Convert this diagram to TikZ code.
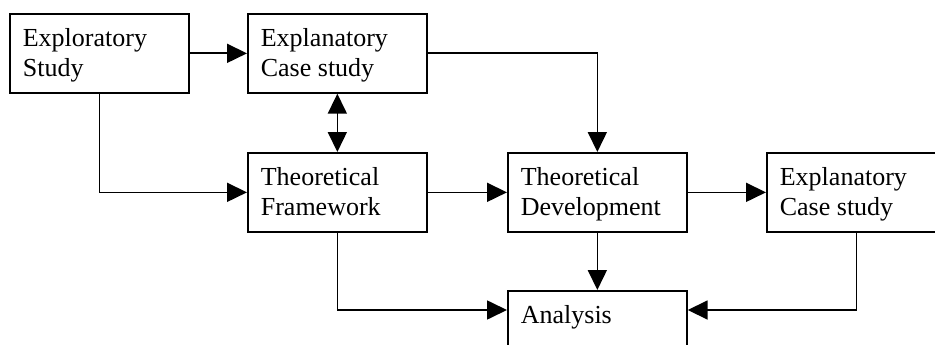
\documentclass[tikz,border=0pt]{standalone}
\usepackage{fontspec}
\setmainfont{Liberation Serif}
\usetikzlibrary{arrows.meta}

\newcommand{\boxlines}[1]{\parbox[c][79pt][t]{153pt}{\raggedright\fontsize{26}{29.5}\selectfont\rule{0pt}{33pt}#1}}

\begin{document}
\begin{tikzpicture}[x=1pt, y=-1pt, line width=1.7pt,
  stagebox/.style={draw=black, rectangle, anchor=north west, inner xsep=13pt, inner ysep=0pt},
  flow/.style={-{Triangle[length=20pt,width=19pt]}},
  twoflow/.style={{Triangle[length=20pt,width=19pt]}-{Triangle[length=20pt,width=19pt]}}]
\useasboundingbox (0,0) rectangle (935,345);
\clip (0,0) rectangle (935,345);

\node[stagebox] (explore) at (9,13) {\boxlines{Exploratory\\Study}};
\node[stagebox] (explain) at (247,13) {\boxlines{Explanatory\\Case study}};
\node[stagebox] (frame) at (247,152) {\boxlines{Theoretical\\Framework}};
\node[stagebox] (develop) at (507,152) {\boxlines{Theoretical\\Development}};
\node[stagebox] (casetwo) at (766,152) {\boxlines{Explanatory\\Case study}};
\node[stagebox] (analysis) at (507,290) {\boxlines{Analysis}};

\draw[flow] (explore) -- (explain);
\draw[flow] (explain.east) -| (develop.north);
\draw[twoflow] (explain) -- (frame);
\draw[flow] (explore.south) |- (frame.west);
\draw[flow] (frame) -- (develop);
\draw[flow] (develop) -- (casetwo);
\draw[flow] (develop) -- (analysis);
\draw[flow] (frame.south) |- ([yshift=-20pt]analysis.north west);
\draw[flow] (casetwo.south) |- ([yshift=-20pt]analysis.north east);

\end{tikzpicture}
\end{document}
